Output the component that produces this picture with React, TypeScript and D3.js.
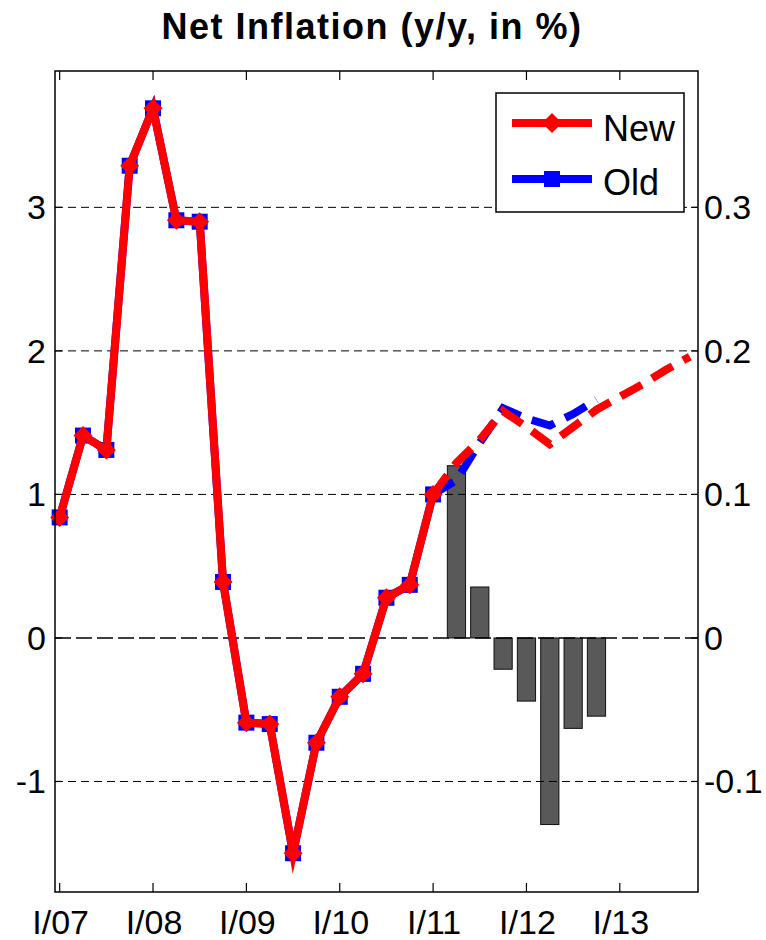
import { useEffect, useRef } from "react";
import * as d3 from "d3";

// quarters since I/07
const histQ = [0, 1, 2, 3, 4, 5, 6, 7, 8, 9, 10, 11, 12, 13, 14, 15, 16];
const histValues = [0.84, 1.41, 1.31, 3.29, 3.69, 2.91, 2.9, 0.39, -0.59, -0.6, -1.5, -0.73, -0.41, -0.25, 0.28, 0.37, 1.0];

const newFcQ = [16, 17, 18, 19, 20, 21, 22, 23, 24, 25, 26, 27];
const newFcValues = [1.0, 1.22, 1.38, 1.58, 1.47, 1.35, 1.47, 1.59, 1.68, 1.77, 1.87, 1.96];

const oldFcQ = [16, 17, 18, 19, 20, 21, 22, 23];
const oldFcValues = [1.0, 1.1, 1.36, 1.6, 1.53, 1.48, 1.56, 1.66];

// difference bars (right axis)
const barQ = [17, 18, 19, 20, 21, 22, 23];
const barValues = [0.12, 0.0355, -0.0218, -0.044, -0.13, -0.063, -0.0545];

const yearTicks = [0, 4, 8, 12, 16, 20, 24];
const yearLabels = ["I/07", "I/08", "I/09", "I/10", "I/11", "I/12", "I/13"];
const leftTicks = [-1, 0, 1, 2, 3];
const leftLabels = ["-1", "0", "1", "2", "3"];
const rightTicks = [-0.1, 0, 0.1, 0.2, 0.3];
const rightLabels = ["-0.1", "0", "0.1", "0.2", "0.3"];

const FONT = "'Liberation Sans', Arial, Helvetica, sans-serif";

export default function App() {
    const svgRef = useRef(null);

    useEffect(() => {
        const width = 766, height = 940;
        const left = 55, right = 698, top = 71, bottom = 892;

        const svg = d3.select(svgRef.current);
        svg.selectAll("*").remove();
        svg.attr("width", width).attr("height", height);

        const x = d3.scaleLinear().domain([-0.2, 27.35]).range([left, right]);
        const y = d3.scaleLinear().domain([-1.77, 3.95]).range([bottom, top]);
        const yR = d3.scaleLinear().domain([-0.177, 0.395]).range([bottom, top]);

        svg.append("rect").attr("width", width).attr("height", height).attr("fill", "#fff");

        // bars
        const bw = (x(1) - x(0)) * 0.78;
        svg.selectAll(".bar")
            .data(barQ.map((q, i) => ({ q, v: barValues[i] })))
            .join("rect")
                .attr("x", d => x(d.q) - bw / 2)
                .attr("y", d => Math.min(yR(d.v), yR(0)))
                .attr("width", bw)
                .attr("height", d => Math.abs(yR(d.v) - yR(0)))
                .attr("fill", "#595959")
                .attr("stroke", "#111")
                .attr("stroke-width", 1);

        // grid
        svg.selectAll(".grid")
            .data(leftTicks.filter(t => t !== 0))
            .join("line")
                .attr("x1", left).attr("x2", right)
                .attr("y1", d => y(d)).attr("y2", d => y(d))
                .attr("stroke", "#000")
                .attr("stroke-width", 1)
                .attr("stroke-dasharray", "8,5");
        svg.append("line")
            .attr("x1", left).attr("x2", right)
            .attr("y1", y(0)).attr("y2", y(0))
            .attr("stroke", "#000")
            .attr("stroke-width", 1.6)
            .attr("stroke-dasharray", "16,5");

        const line = d3.line().x(d => x(d[0])).y(d => y(d[1]));
        const hist = histQ.map((q, i) => [q, histValues[i]]);

        // old series
        svg.append("path")
            .attr("d", line(hist))
            .attr("fill", "none").attr("stroke", "#0000ff").attr("stroke-width", 8);
        svg.append("path")
            .attr("d", line(oldFcQ.map((q, i) => [q, oldFcValues[i]])))
            .attr("fill", "none").attr("stroke", "#0000ff").attr("stroke-width", 8)
            .attr("stroke-dasharray", "24,12");
        svg.selectAll(".sq")
            .data(hist)
            .join("rect")
                .attr("x", d => x(d[0]) - 8)
                .attr("y", d => y(d[1]) - 8)
                .attr("width", 16).attr("height", 16)
                .attr("fill", "#0000ff");

        // new series
        svg.append("path")
            .attr("d", line(newFcQ.map((q, i) => [q, newFcValues[i]])))
            .attr("fill", "none").attr("stroke", "#ff0000").attr("stroke-width", 8)
            .attr("stroke-dasharray", "24,12");
        svg.append("path")
            .attr("d", line(hist))
            .attr("fill", "none").attr("stroke", "#ff0000").attr("stroke-width", 8)
            .attr("stroke-miterlimit", 10);
        const diamond = (cx, cy, r) => `M${cx},${cy - r}L${cx + r},${cy}L${cx},${cy + r}L${cx - r},${cy}Z`;
        svg.selectAll(".dm")
            .data(hist)
            .join("path")
                .attr("d", d => diamond(x(d[0]), y(d[1]), 9.5))
                .attr("fill", "#ff0000");

        // frame
        svg.append("rect")
            .attr("x", left).attr("y", top)
            .attr("width", right - left).attr("height", bottom - top)
            .attr("fill", "none").attr("stroke", "#000").attr("stroke-width", 1.5);

        // ticks
        const tk = svg.append("g").attr("stroke", "#000").attr("stroke-width", 1.2);
        yearTicks.forEach(q => {
            tk.append("line").attr("x1", x(q)).attr("x2", x(q)).attr("y1", bottom).attr("y2", bottom - 9);
            tk.append("line").attr("x1", x(q)).attr("x2", x(q)).attr("y1", top).attr("y2", top + 9);
        });
        leftTicks.forEach(t => {
            tk.append("line").attr("x1", left).attr("x2", left + 7).attr("y1", y(t)).attr("y2", y(t));
        });
        rightTicks.forEach(t => {
            tk.append("line").attr("x1", right).attr("x2", right - 7).attr("y1", yR(t)).attr("y2", yR(t));
        });

        // tick labels
        svg.selectAll(".xl")
            .data(yearTicks)
            .join("text")
                .attr("x", d => x(d) + 1)
                .attr("y", 934)
                .attr("text-anchor", "middle")
                .style("font-family", FONT)
                .style("font-size", "34px")
                .text((d, i) => yearLabels[i]);
        svg.selectAll(".yl")
            .data(leftTicks)
            .join("text")
                .attr("x", 46)
                .attr("y", d => y(d) + 12)
                .attr("text-anchor", "end")
                .style("font-family", FONT)
                .style("font-size", "34px")
                .text((d, i) => leftLabels[i]);
        svg.selectAll(".yr")
            .data(rightTicks)
            .join("text")
                .attr("x", 704)
                .attr("y", d => yR(d) + 12)
                .attr("text-anchor", "start")
                .style("font-family", FONT)
                .style("font-size", "34px")
                .text((d, i) => rightLabels[i]);

        // title
        svg.append("text")
            .attr("x", 372)
            .attr("y", 39)
            .attr("text-anchor", "middle")
            .style("font-family", FONT)
            .style("font-size", "36px")
            .style("font-weight", "bold")
            .attr("letter-spacing", "1.5px")
            .text("Net Inflation (y/y, in %)");

        // legend
        const lg = svg.append("g");
        lg.append("rect")
            .attr("x", 496).attr("y", 93).attr("width", 188).attr("height", 119)
            .attr("fill", "#fff").attr("stroke", "#000").attr("stroke-width", 1.5);
        lg.append("line").attr("x1", 512).attr("x2", 592).attr("y1", 123).attr("y2", 123)
            .attr("stroke", "#ff0000").attr("stroke-width", 8);
        lg.append("path").attr("d", diamond(552, 123, 10)).attr("fill", "#ff0000");
        lg.append("line").attr("x1", 512).attr("x2", 592).attr("y1", 179).attr("y2", 179)
            .attr("stroke", "#0000ff").attr("stroke-width", 8);
        lg.append("rect").attr("x", 544).attr("y", 171).attr("width", 16).attr("height", 16).attr("fill", "#0000ff");
        lg.append("text").attr("x", 603).attr("y", 141)
            .style("font-family", FONT).style("font-size", "36px").text("New");
        lg.append("text").attr("x", 603).attr("y", 195)
            .style("font-family", FONT).style("font-size", "36px").text("Old");
    }, []);

    return (
        <svg ref={svgRef} style={{ position: "absolute", left: 0, top: 0 }}></svg>
    );
}
